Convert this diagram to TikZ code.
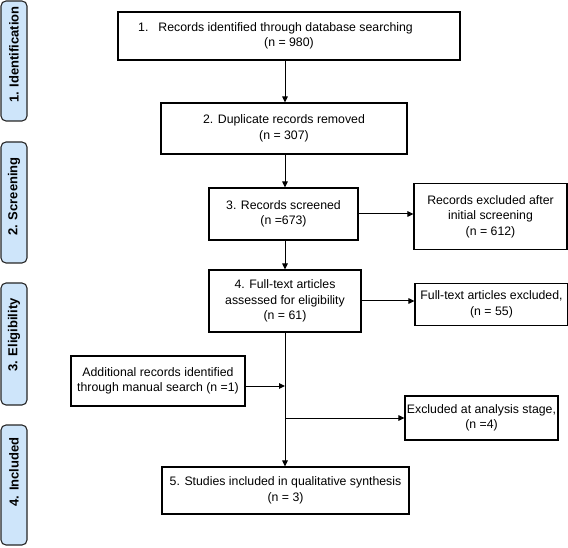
\documentclass[tikz,border=0pt]{standalone}
\usepackage{fontspec}
\setmainfont{Liberation Sans}
\usetikzlibrary{arrows.meta}
\definecolor{barblue}{RGB}{206,229,250}
\begin{document}
\begin{tikzpicture}[x=1pt,y=-1pt,
  box/.style={draw=black, line width=1.1pt, rectangle, inner sep=0pt, align=center, font=\fontsize{12.3}{15.5}\selectfont},
  bar/.style={draw=black!85, line width=1.1pt, fill=barblue, rounded corners=5pt, minimum width=26pt, inner sep=0pt},
  barlabel/.style={rotate=90, inner sep=0pt, font=\fontsize{13}{15}\selectfont\bfseries},
  arr/.style={line width=1pt, -{Triangle[length=6pt,width=5.5pt]}}]
\useasboundingbox (0,0) rectangle (568,548);

% side bars
\node[bar, minimum height=120pt] (s1) at (14,61) {};
\node[bar, minimum height=121pt] (s2) at (14,202.5) {};
\node[bar, minimum height=122pt] (s3) at (14,344) {};
\node[bar, minimum height=120pt] (s4) at (14,485) {};
\node[barlabel] (l1) at (14,54.5) {1. Identification};
\node[barlabel] (l2) at (14,196.5) {2. Screening};
\node[barlabel] (l3) at (14,335) {3. Eligibility};
\node[barlabel] (l4) at (14,472) {4. Included};

% main column
\coordinate (col) at (285,0);
\node[box, minimum width=342pt, minimum height=48pt] (b1) at (289,36)
  {1.\hspace{10pt}Records identified through database searching\hspace{27pt}\mbox{}\\(n = 980)};
\node[box, minimum width=246pt, minimum height=51pt] (b2) at (284,128.5)
  {2. Duplicate records removed\\(n = 307)};
\node[box, minimum width=149pt, minimum height=52pt] (b3) at (283.5,214)
  {3. Records screened\\(n =673)};
\node[box, minimum width=153pt, minimum height=66pt] (r1) at (490.5,216.5)
  {Records excluded after\\initial screening\\(n = 612)};
\node[box, minimum width=152pt, minimum height=62pt] (b4) at (285,301)
  {4. Full-text articles\\assessed for eligibility\\(n = 61)};
\node[box, minimum width=153pt, minimum height=42pt] (r2) at (491.5,304.5)
  {Full-text articles excluded,\\(n = 55)};
\node[box, minimum width=174pt, minimum height=50pt] (add) at (158,381)
  {Additional records identified\\through manual search (n =1)};
\node[box, minimum width=153pt, minimum height=44pt] (ex) at (481.5,418)
  {Excluded at analysis stage,\\(n =4)};
\node[box, minimum width=247pt, minimum height=47pt] (b5) at (285.5,490.5)
  {5. Studies included in qualitative synthesis\\(n = 3)};

% connectors
\draw[arr] (b1.south -| col) -- (b2.north -| col);
\draw[arr] (b2.south -| col) -- (b3.north -| col);
\draw[arr] (b3.south -| col) -- (b4.north -| col);
\draw[arr] (b3.east) -- (b3.east -| r1.west);
\draw[arr] (b4.east) -- (b4.east -| r2.west);
\draw[arr] (b4.south -| col) -- (b5.north -| col);
\draw[arr] ([yshift=-5pt]add.east) -- ([yshift=-5pt]add.east -| col);
\draw[arr] (ex.west -| col) -- (ex.west);
\end{tikzpicture}
\end{document}
